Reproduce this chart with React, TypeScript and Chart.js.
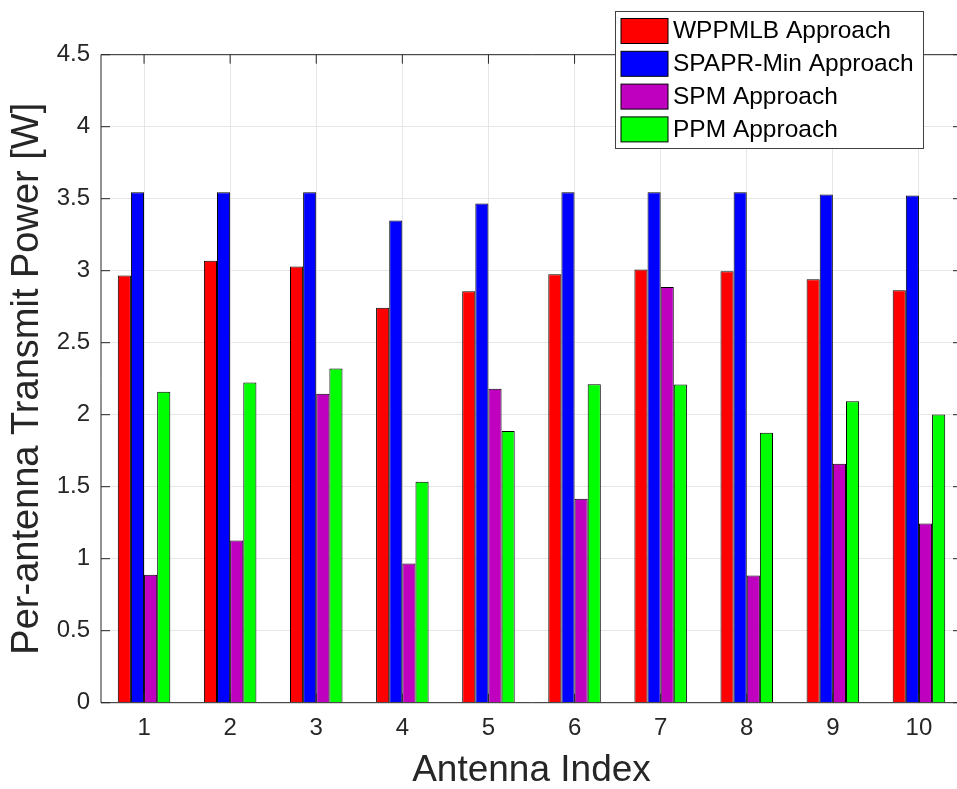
import React, { useEffect, useRef } from "react";
import { Chart, registerables } from "chart.js";

Chart.register(...registerables);

const categories = ["1", "2", "3", "4", "5", "6", "7", "8", "9", "10"];
const wppmlb = [2.967, 3.069, 3.03, 2.742, 2.858, 2.976, 3.009, 2.997, 2.94, 2.865];
const spaprMin = [3.544, 3.544, 3.544, 3.349, 3.467, 3.544, 3.544, 3.544, 3.53, 3.523];
const spm = [0.888, 1.126, 2.146, 0.967, 2.18, 1.417, 2.886, 0.883, 1.66, 1.244];
const ppm = [2.159, 2.224, 2.321, 1.535, 1.886, 2.212, 2.21, 1.875, 2.094, 2.002];
const seriesNames = ["WPPMLB Approach", "SPAPR-Min Approach", "SPM Approach", "PPM Approach"];
const seriesColors = ["#ff0000", "#0000ff", "#bf00bf", "#00ff00"];
const yTickLabels = ["0", "0.5", "1", "1.5", "2", "2.5", "3", "3.5", "4", "4.5"];
const yMin = 0;
const yMax = 4.5;
const yStep = 0.5;
const xTitle = "Antenna Index";
const yTitle = "Per-antenna Transmit Power [W]";

const FONT = "'Liberation Sans', Arial, Helvetica, sans-serif";
const AXIS_COLOR = "#262626";
const CANVAS_W = 972;
const CANVAS_H = 789;

const boxPlugin = {
  id: "matlabBox",
  afterDatasetsDraw(chart: any) {
    const { ctx, chartArea } = chart;
    const { left, right, top, bottom } = chartArea;
    const xs = chart.scales.x;
    const ys = chart.scales.y;
    const tl = 9;
    ctx.save();
    ctx.strokeStyle = AXIS_COLOR;
    ctx.lineWidth = 1;
    ctx.beginPath();
    ctx.rect(left, top, right - left, bottom - top);
    ctx.stroke();
    ctx.beginPath();
    xs.ticks.forEach((_t: any, i: number) => {
      const px = xs.getPixelForTick(i);
      ctx.moveTo(px, bottom);
      ctx.lineTo(px, bottom - tl);
      ctx.moveTo(px, top);
      ctx.lineTo(px, top + tl);
    });
    ys.ticks.forEach((_t: any, i: number) => {
      const py = ys.getPixelForTick(i);
      ctx.moveTo(left, py);
      ctx.lineTo(left + tl, py);
      ctx.moveTo(right, py);
      ctx.lineTo(right - tl, py);
    });
    ctx.stroke();
    ctx.restore();
  },
  afterDraw(chart: any) {
    const { ctx } = chart;
    const bx = 615.5;
    const by = 11.5;
    const bw = 308;
    const bh = 137;
    ctx.save();
    ctx.fillStyle = "#ffffff";
    ctx.fillRect(bx, by, bw, bh);
    ctx.strokeStyle = "#404040";
    ctx.lineWidth = 1;
    ctx.strokeRect(bx, by, bw, bh);
    ctx.font = `24.5px ${FONT}`;
    ctx.textBaseline = "middle";
    ctx.textAlign = "left";
    chart.data.datasets.forEach((ds: any, i: number) => {
      const sy = 18.5 + i * 32.8;
      ctx.fillStyle = ds.backgroundColor;
      ctx.fillRect(621, sy, 47, 25);
      ctx.strokeStyle = "#000000";
      ctx.strokeRect(621, sy, 47, 25);
      ctx.fillStyle = "#000000";
      ctx.fillText(ds.label, 673, sy + 13);
    });
    ctx.restore();
  },
};

export default function App() {
  const ref = useRef<HTMLCanvasElement | null>(null);

  useEffect(() => {
    if (!ref.current) return;
    const datasets = [wppmlb, spaprMin, spm, ppm].map((vals, i) => ({
      label: seriesNames[i],
      data: vals,
      backgroundColor: seriesColors[i],
      borderColor: "#000000",
      borderWidth: 1,
      categoryPercentage: 0.61,
      barPercentage: 1.0,
    }));
    const chart = new Chart(ref.current, {
      type: "bar",
      data: { labels: categories, datasets },
      plugins: [boxPlugin],
      options: {
        animation: false,
        responsive: false,
        devicePixelRatio: 1,
        layout: { padding: { top: 54.7, right: CANVAS_W - 962, bottom: 0, left: 0 } },
        plugins: { legend: { display: false }, tooltip: { enabled: false } },
        scales: {
          x: {
            offset: true,
            grid: { offset: false, color: "#e6e6e6", drawTicks: false },
            border: { display: false },
            ticks: { color: AXIS_COLOR, font: { family: FONT, size: 24 }, padding: 11, maxRotation: 0 },
            title: {
              display: true,
              text: xTitle,
              color: AXIS_COLOR,
              font: { family: FONT, size: 37, lineHeight: 1 },
              padding: { top: 0, bottom: 0 },
            },
            afterFit(scale: any) {
              scale.height = CANVAS_H - 702.7;
            },
          },
          y: {
            min: yMin,
            max: yMax,
            grid: { color: "#e6e6e6", drawTicks: false },
            border: { display: false },
            ticks: {
              stepSize: yStep,
              color: AXIS_COLOR,
              font: { family: FONT, size: 24 },
              padding: 11,
              callback: (_v: any, i: number) => yTickLabels[i],
            },
            title: {
              display: true,
              text: yTitle,
              color: AXIS_COLOR,
              font: { family: FONT, size: 38, lineHeight: 1 },
              padding: { top: 9, bottom: 0 },
            },
            afterFit(scale: any) {
              scale.width = 101;
            },
          },
        },
      },
    });
    return () => chart.destroy();
  }, []);

  return (
    <div
      style={{
        position: "fixed",
        left: 0,
        top: 0,
        width: 957,
        height: 789,
        overflow: "hidden",
        background: "#ffffff",
      }}
    >
      <canvas ref={ref} width={CANVAS_W} height={CANVAS_H} style={{ display: "block" }} />
    </div>
  );
}
